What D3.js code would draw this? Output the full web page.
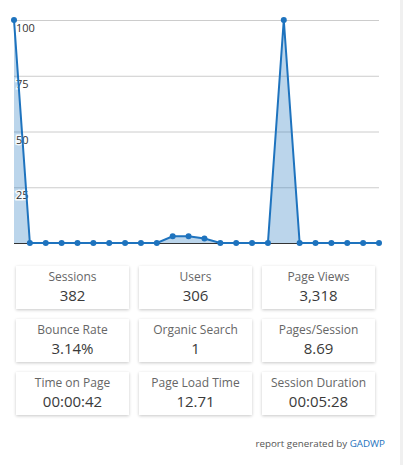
<!DOCTYPE html>
<html>
<head>
<meta charset="utf-8">
<script src="https://cdn.jsdelivr.net/npm/d3@7"></script>
<style>
  body { margin: 0; background: #fff; font-family: "Open Sans", sans-serif; }
  #wrap { position: relative; width: 403px; height: 465px; overflow: hidden; }
  #strip { position: absolute; left: 400px; top: 0; width: 3px; height: 465px; background: #f0f0f0; }
  .card { position: absolute; width: 113px; height: 43px; background: #fff;
          box-shadow: 0 1px 3px rgba(0,0,0,0.22); text-align: center; }
  .card .t { font-size: 12px; color: #666; margin-top: 3px; line-height: 16px; }
  .card .v { font-size: 15px; color: #3a3a3a; line-height: 21px; }
  #foot { position: absolute; right: 18px; top: 437px; font-size: 9.8px; color: #555; }
  #foot span { color: #1e73be; }
</style>
</head>
<body>
<div id="wrap">
  <svg id="chart" width="400" height="255"></svg>
  <div id="strip"></div>
</div>
<script>
// hourly values
var hours = d3.range(24)
var values = [100, 0, 0, 0, 0, 0, 0, 0, 0, 0, 3, 3, 2, 0, 0, 0, 0, 100, 0, 0, 0, 0, 0, 0]
var yTicks = [25, 50, 75, 100]

var cardTitles = ['Sessions', 'Users', 'Page Views', 'Bounce Rate', 'Organic Search', 'Pages/Session',
                  'Time on Page', 'Page Load Time', 'Session Duration']
var cardValues = ['382', '306', '3,318', '3.14%', '1', '8.69', '00:00:42', '12.71', '00:05:28']

var blue = '#1e73be'

var x = d3.scaleLinear().domain([0, 23]).range([14, 379])
var y = d3.scaleLinear().domain([0, 100]).range([243, 20])

var svg = d3.select('#chart')

// gridlines
svg.selectAll('.grid')
    .data(yTicks)
  .enter().append('line')
    .attr('x1', x(0)).attr('x2', x(23))
    .attr('y1', function(d) { return y(d) + 0.5 })
    .attr('y2', function(d) { return y(d) + 0.5 })
    .attr('stroke', '#ccc')

var area = d3.area()
    .x(function(d, i) { return x(hours[i]) })
    .y0(y(0))
    .y1(function(d) { return y(d) })

svg.append('path')
    .datum(values)
    .attr('d', area)
    .attr('fill', blue)
    .attr('fill-opacity', 0.3)

// baseline
svg.append('line')
    .attr('x1', x(0)).attr('x2', x(23))
    .attr('y1', y(0) + 0.5).attr('y2', y(0) + 0.5)
    .attr('stroke', '#333')

// in-chart tick labels with white halo
svg.selectAll('.lbl')
    .data(yTicks)
  .enter().append('text')
    .attr('x', 16)
    .attr('y', function(d) { return y(d) + 12 })
    .text(function(d) { return d })
    .attr('font-size', 11)
    .attr('fill', '#333')
    .attr('stroke', 'rgba(255,255,255,0.85)')
    .attr('stroke-width', 3)
    .attr('paint-order', 'stroke')
    .attr('font-family', 'Open Sans, sans-serif')

var line = d3.line()
    .x(function(d, i) { return x(hours[i]) })
    .y(function(d) { return y(d) })

svg.append('path')
    .datum(values)
    .attr('d', line)
    .attr('fill', 'none')
    .attr('stroke', blue)
    .attr('stroke-width', 2)

svg.selectAll('.pt')
    .data(values)
  .enter().append('circle')
    .attr('cx', function(d, i) { return x(hours[i]) })
    .attr('cy', function(d) { return y(d) })
    .attr('r', 3)
    .attr('fill', blue)

// stat cards
var wrap = d3.select('#wrap')
var cards = wrap.selectAll('.card')
    .data(cardTitles)
  .enter().append('div')
    .attr('class', 'card')
    .style('left', function(d, i) { return (16 + (i % 3) * 123) + 'px' })
    .style('top', function(d, i) { return (266 + Math.floor(i / 3) * 53) + 'px' })

cards.append('div').attr('class', 't').text(function(d) { return d })
cards.append('div').attr('class', 'v').text(function(d, i) { return cardValues[i] })

wrap.append('div').attr('id', 'foot')
    .html('report generated by <span>GADWP</span>')
</script>
</body>
</html>
